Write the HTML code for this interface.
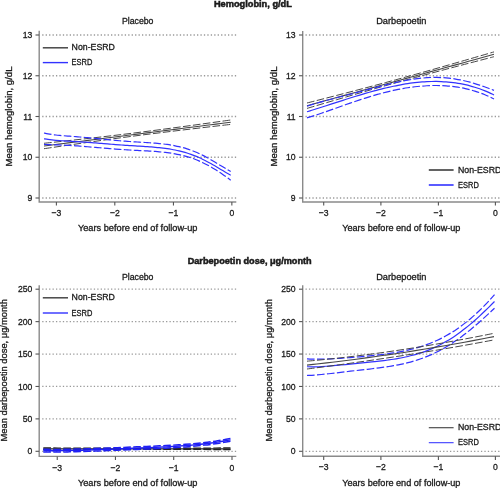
<!DOCTYPE html>
<html><head><meta charset="utf-8"><title>Figure</title>
<style>html,body{margin:0;padding:0;background:#fff;overflow:hidden}svg{display:block}text{font-family:"Liberation Sans",sans-serif;stroke:#1a1a1a;stroke-width:0.3px}</style>
</head><body>
<svg width="500" height="488" viewBox="0 0 500 488" font-family='"Liberation Sans", sans-serif' fill="#1a1a1a" style="will-change:transform">
<rect width="500" height="488" fill="#fff"/>
<text x="252.90" y="6.60" font-size="8.90" text-anchor="middle" font-weight="bold" textLength="78.00" lengthAdjust="spacingAndGlyphs" style="stroke-width:0.5px">Hemoglobin, g/dL</text>
<text x="249.65" y="263.70" font-size="8.90" text-anchor="middle" font-weight="bold" textLength="124.00" lengthAdjust="spacingAndGlyphs" style="stroke-width:0.5px">Darbepoetin dose, μg/month</text>
<g>
<line x1="42.20" y1="35.00" x2="236.30" y2="35.00" stroke="#9a9a9a" stroke-width="1.3" stroke-dasharray="1.3 2.14"/>
<line x1="42.20" y1="75.75" x2="236.30" y2="75.75" stroke="#9a9a9a" stroke-width="1.3" stroke-dasharray="1.3 2.14"/>
<line x1="42.20" y1="116.50" x2="236.30" y2="116.50" stroke="#9a9a9a" stroke-width="1.3" stroke-dasharray="1.3 2.14"/>
<line x1="42.20" y1="157.25" x2="236.30" y2="157.25" stroke="#9a9a9a" stroke-width="1.3" stroke-dasharray="1.3 2.14"/>
<line x1="42.20" y1="198.00" x2="236.30" y2="198.00" stroke="#9a9a9a" stroke-width="1.3" stroke-dasharray="1.3 2.14"/>
<path d="M39.20,30.70 V202.00 H236.30" fill="none" stroke="#8a8a8a" stroke-width="1.4"/>
<line x1="35.50" y1="35.00" x2="39.20" y2="35.00" stroke="#555" stroke-width="1.1"/>
<text x="32.30" y="38.15" font-size="9.60" text-anchor="end" font-weight="normal" textLength="9.61" lengthAdjust="spacingAndGlyphs">13</text>
<line x1="35.50" y1="75.75" x2="39.20" y2="75.75" stroke="#555" stroke-width="1.1"/>
<text x="32.30" y="78.90" font-size="9.60" text-anchor="end" font-weight="normal" textLength="9.61" lengthAdjust="spacingAndGlyphs">12</text>
<line x1="35.50" y1="116.50" x2="39.20" y2="116.50" stroke="#555" stroke-width="1.1"/>
<text x="32.30" y="119.65" font-size="9.60" text-anchor="end" font-weight="normal" textLength="8.97" lengthAdjust="spacingAndGlyphs">11</text>
<line x1="35.50" y1="157.25" x2="39.20" y2="157.25" stroke="#555" stroke-width="1.1"/>
<text x="32.30" y="160.40" font-size="9.60" text-anchor="end" font-weight="normal" textLength="9.61" lengthAdjust="spacingAndGlyphs">10</text>
<line x1="35.50" y1="198.00" x2="39.20" y2="198.00" stroke="#555" stroke-width="1.1"/>
<text x="32.30" y="201.15" font-size="9.60" text-anchor="end" font-weight="normal" textLength="4.80" lengthAdjust="spacingAndGlyphs">9</text>
<line x1="56.40" y1="202.00" x2="56.40" y2="205.60" stroke="#555" stroke-width="1.1"/>
<text x="56.40" y="216.10" font-size="9.60" text-anchor="middle" font-weight="normal" textLength="9.85" lengthAdjust="spacingAndGlyphs">−3</text>
<line x1="114.80" y1="202.00" x2="114.80" y2="205.60" stroke="#555" stroke-width="1.1"/>
<text x="114.80" y="216.10" font-size="9.60" text-anchor="middle" font-weight="normal" textLength="9.85" lengthAdjust="spacingAndGlyphs">−2</text>
<line x1="173.45" y1="202.00" x2="173.45" y2="205.60" stroke="#555" stroke-width="1.1"/>
<text x="173.45" y="216.10" font-size="9.60" text-anchor="middle" font-weight="normal" textLength="9.85" lengthAdjust="spacingAndGlyphs">−1</text>
<line x1="231.85" y1="202.00" x2="231.85" y2="205.60" stroke="#555" stroke-width="1.1"/>
<text x="231.85" y="216.10" font-size="9.60" text-anchor="middle" font-weight="normal" textLength="4.80" lengthAdjust="spacingAndGlyphs">0</text>
<text x="137.70" y="23.60" font-size="9.00" text-anchor="middle" font-weight="normal" textLength="31.50" lengthAdjust="spacingAndGlyphs">Placebo</text>
<text x="137.70" y="231.40" font-size="9.00" text-anchor="middle" font-weight="normal" textLength="119.50" lengthAdjust="spacingAndGlyphs">Years before end of follow-up</text>
<text transform="translate(12.30,116.50) rotate(-90)" x="0" y="0" font-size="9.00" text-anchor="middle" textLength="100.00" lengthAdjust="spacingAndGlyphs">Mean hemoglobin, g/dL</text>
<path d="M44.00,143.30 C45.64,143.12 50.55,142.59 53.83,142.24 C57.10,141.88 60.38,141.52 63.65,141.16 C66.93,140.80 70.20,140.44 73.48,140.08 C76.75,139.72 80.03,139.35 83.31,138.99 C86.58,138.62 89.86,138.25 93.13,137.88 C96.41,137.51 99.68,137.13 102.96,136.75 C106.23,136.37 109.51,135.99 112.78,135.60 C116.06,135.21 119.34,134.82 122.61,134.42 C125.89,134.03 129.16,133.62 132.44,133.22 C135.71,132.81 138.99,132.39 142.26,131.97 C145.54,131.55 148.81,131.13 152.09,130.71 C155.36,130.28 158.64,129.85 161.92,129.42 C165.19,128.99 168.47,128.55 171.74,128.11 C175.02,127.68 178.29,127.23 181.57,126.79 C184.84,126.35 188.12,125.90 191.39,125.46 C194.67,125.01 197.95,124.56 201.22,124.11 C204.50,123.65 207.77,123.20 211.05,122.75 C214.32,122.29 217.60,121.83 220.87,121.38 C224.15,120.92 229.06,120.23 230.70,120.00" fill="none" stroke="#474747" stroke-width="1.00" stroke-dasharray="7.6 2.4"/>
<path d="M44.00,148.70 C45.64,148.46 50.55,147.74 53.83,147.26 C57.10,146.78 60.38,146.30 63.65,145.83 C66.93,145.35 70.20,144.88 73.48,144.40 C76.75,143.93 80.03,143.46 83.31,142.99 C86.58,142.52 89.86,142.06 93.13,141.59 C96.41,141.13 99.68,140.67 102.96,140.22 C106.23,139.76 109.51,139.31 112.78,138.86 C116.06,138.41 119.34,137.97 122.61,137.53 C125.89,137.10 129.16,136.66 132.44,136.24 C135.71,135.81 138.99,135.39 142.26,134.97 C145.54,134.56 148.81,134.15 152.09,133.74 C155.36,133.33 158.64,132.92 161.92,132.52 C165.19,132.11 168.47,131.72 171.74,131.32 C175.02,130.92 178.29,130.53 181.57,130.13 C184.84,129.74 188.12,129.35 191.39,128.97 C194.67,128.58 197.95,128.19 201.22,127.81 C204.50,127.43 207.77,127.04 211.05,126.66 C214.32,126.28 217.60,125.91 220.87,125.53 C224.15,125.15 229.06,124.59 230.70,124.40" fill="none" stroke="#474747" stroke-width="1.00" stroke-dasharray="7.6 2.4"/>
<path d="M44.00,146.00 C45.64,145.79 50.55,145.16 53.83,144.75 C57.10,144.33 60.38,143.91 63.65,143.49 C66.93,143.08 70.20,142.66 73.48,142.24 C76.75,141.82 80.03,141.41 83.31,140.99 C86.58,140.57 89.86,140.15 93.13,139.74 C96.41,139.32 99.68,138.90 102.96,138.48 C106.23,138.07 109.51,137.65 112.78,137.23 C116.06,136.81 119.34,136.40 122.61,135.98 C125.89,135.56 129.16,135.14 132.44,134.73 C135.71,134.31 138.99,133.89 142.26,133.47 C145.54,133.06 148.81,132.64 152.09,132.22 C155.36,131.80 158.64,131.39 161.92,130.97 C165.19,130.55 168.47,130.13 171.74,129.72 C175.02,129.30 178.29,128.88 181.57,128.46 C184.84,128.05 188.12,127.63 191.39,127.21 C194.67,126.79 197.95,126.38 201.22,125.96 C204.50,125.54 207.77,125.12 211.05,124.71 C214.32,124.29 217.60,123.87 220.87,123.45 C224.15,123.04 229.06,122.41 230.70,122.20" fill="none" stroke="#474747" stroke-width="1.10"/>
<path d="M44.00,132.97 C44.66,133.12 46.65,133.59 47.97,133.85 C49.30,134.10 50.62,134.31 51.94,134.51 C53.27,134.70 54.59,134.86 55.92,135.01 C57.24,135.16 58.57,135.29 59.89,135.42 C61.21,135.54 62.54,135.65 63.86,135.76 C65.19,135.87 66.51,135.97 67.83,136.07 C69.16,136.17 70.48,136.27 71.81,136.37 C73.13,136.47 74.45,136.57 75.78,136.67 C77.10,136.78 78.43,136.88 79.75,136.99 C81.08,137.10 82.40,137.22 83.72,137.33 C85.05,137.45 86.37,137.57 87.70,137.69 C89.02,137.81 90.34,137.94 91.67,138.07 C92.99,138.20 94.32,138.33 95.64,138.46 C96.96,138.59 98.29,138.73 99.61,138.86 C100.94,138.99 102.26,139.13 103.59,139.26 C104.91,139.39 106.23,139.52 107.56,139.65 C108.88,139.78 110.21,139.91 111.53,140.04 C112.85,140.16 114.18,140.28 115.50,140.40 C116.83,140.52 118.15,140.64 119.47,140.75 C120.80,140.86 122.12,140.97 123.45,141.07 C124.77,141.17 126.10,141.27 127.42,141.37 C128.74,141.46 130.07,141.55 131.39,141.64 C132.72,141.73 134.04,141.81 135.36,141.90 C136.69,141.98 138.01,142.06 139.34,142.14 C140.66,142.22 141.98,142.30 143.31,142.38 C144.63,142.46 145.96,142.54 147.28,142.63 C148.60,142.71 149.93,142.80 151.25,142.89 C152.58,142.99 153.90,143.08 155.23,143.19 C156.55,143.30 157.87,143.41 159.20,143.54 C160.52,143.67 161.85,143.80 163.17,143.96 C164.49,144.11 165.82,144.27 167.14,144.46 C168.47,144.64 169.79,144.84 171.11,145.06 C172.44,145.28 173.76,145.52 175.09,145.79 C176.41,146.05 177.74,146.34 179.06,146.65 C180.38,146.97 181.71,147.30 183.03,147.67 C184.36,148.04 185.68,148.43 187.00,148.86 C188.33,149.28 189.65,149.73 190.98,150.22 C192.30,150.70 193.62,151.22 194.95,151.76 C196.27,152.31 197.60,152.89 198.92,153.49 C200.25,154.10 201.57,154.74 202.89,155.40 C204.22,156.07 205.54,156.76 206.87,157.48 C208.19,158.19 209.51,158.94 210.84,159.70 C212.16,160.45 213.49,161.24 214.81,162.03 C216.13,162.82 217.46,163.63 218.78,164.43 C220.11,165.24 221.43,166.06 222.76,166.86 C224.08,167.66 225.40,168.46 226.73,169.23 C228.05,170.00 230.04,171.10 230.70,171.47" fill="none" stroke="#3232ff" stroke-width="1.20" stroke-dasharray="7.6 2.4"/>
<path d="M44.00,144.39 C44.66,144.42 46.65,144.52 47.97,144.57 C49.30,144.63 50.62,144.67 51.94,144.72 C53.27,144.76 54.59,144.81 55.92,144.85 C57.24,144.90 58.57,144.95 59.89,145.00 C61.21,145.05 62.54,145.10 63.86,145.16 C65.19,145.22 66.51,145.28 67.83,145.35 C69.16,145.42 70.48,145.49 71.81,145.57 C73.13,145.65 74.45,145.73 75.78,145.82 C77.10,145.91 78.43,146.00 79.75,146.10 C81.08,146.19 82.40,146.30 83.72,146.40 C85.05,146.51 86.37,146.62 87.70,146.73 C89.02,146.84 90.34,146.95 91.67,147.07 C92.99,147.18 94.32,147.30 95.64,147.42 C96.96,147.53 98.29,147.65 99.61,147.77 C100.94,147.89 102.26,148.00 103.59,148.12 C104.91,148.23 106.23,148.35 107.56,148.46 C108.88,148.57 110.21,148.67 111.53,148.78 C112.85,148.89 114.18,148.99 115.50,149.09 C116.83,149.19 118.15,149.28 119.47,149.37 C120.80,149.47 122.12,149.55 123.45,149.64 C124.77,149.73 126.10,149.81 127.42,149.89 C128.74,149.96 130.07,150.04 131.39,150.11 C132.72,150.19 134.04,150.26 135.36,150.33 C136.69,150.40 138.01,150.47 139.34,150.54 C140.66,150.61 141.98,150.67 143.31,150.74 C144.63,150.82 145.96,150.89 147.28,150.96 C148.60,151.04 149.93,151.11 151.25,151.20 C152.58,151.28 153.90,151.37 155.23,151.47 C156.55,151.57 157.87,151.67 159.20,151.79 C160.52,151.90 161.85,152.03 163.17,152.17 C164.49,152.31 165.82,152.46 167.14,152.62 C168.47,152.79 169.79,152.97 171.11,153.17 C172.44,153.37 173.76,153.59 175.09,153.83 C176.41,154.07 177.74,154.33 179.06,154.61 C180.38,154.90 181.71,155.20 183.03,155.54 C184.36,155.87 185.68,156.23 187.00,156.62 C188.33,157.00 189.65,157.42 190.98,157.86 C192.30,158.31 193.62,158.78 194.95,159.29 C196.27,159.79 197.60,160.33 198.92,160.90 C200.25,161.47 201.57,162.07 202.89,162.70 C204.22,163.33 205.54,164.00 206.87,164.70 C208.19,165.39 209.51,166.12 210.84,166.88 C212.16,167.64 213.49,168.43 214.81,169.25 C216.13,170.07 217.46,170.92 218.78,171.79 C220.11,172.66 221.43,173.55 222.76,174.47 C224.08,175.38 225.40,176.32 226.73,177.27 C228.05,178.21 230.04,179.67 230.70,180.15" fill="none" stroke="#3232ff" stroke-width="1.20" stroke-dasharray="7.6 2.4"/>
<path d="M44.00,138.80 C44.66,138.91 46.65,139.27 47.97,139.46 C49.30,139.65 50.62,139.81 51.94,139.95 C53.27,140.10 54.59,140.22 55.92,140.33 C57.24,140.44 58.57,140.53 59.89,140.62 C61.21,140.71 62.54,140.79 63.86,140.87 C65.19,140.95 66.51,141.02 67.83,141.10 C69.16,141.17 70.48,141.25 71.81,141.32 C73.13,141.40 74.45,141.47 75.78,141.55 C77.10,141.63 78.43,141.71 79.75,141.80 C81.08,141.89 82.40,141.97 83.72,142.07 C85.05,142.16 86.37,142.25 87.70,142.35 C89.02,142.45 90.34,142.55 91.67,142.65 C92.99,142.75 94.32,142.86 95.64,142.97 C96.96,143.07 98.29,143.18 99.61,143.29 C100.94,143.40 102.26,143.51 103.59,143.62 C104.91,143.73 106.23,143.84 107.56,143.95 C108.88,144.05 110.21,144.16 111.53,144.27 C112.85,144.37 114.18,144.48 115.50,144.58 C116.83,144.68 118.15,144.78 119.47,144.87 C120.80,144.97 122.12,145.06 123.45,145.15 C124.77,145.25 126.10,145.33 127.42,145.42 C128.74,145.51 130.07,145.59 131.39,145.68 C132.72,145.76 134.04,145.84 135.36,145.92 C136.69,146.00 138.01,146.08 139.34,146.16 C140.66,146.24 141.98,146.32 143.31,146.41 C144.63,146.49 145.96,146.58 147.28,146.67 C148.60,146.76 149.93,146.85 151.25,146.96 C152.58,147.06 153.90,147.16 155.23,147.28 C156.55,147.40 157.87,147.52 159.20,147.66 C160.52,147.79 161.85,147.94 163.17,148.10 C164.49,148.26 165.82,148.43 167.14,148.63 C168.47,148.82 169.79,149.02 171.11,149.25 C172.44,149.48 173.76,149.72 175.09,149.99 C176.41,150.26 177.74,150.55 179.06,150.86 C180.38,151.18 181.71,151.52 183.03,151.88 C184.36,152.24 185.68,152.63 187.00,153.05 C188.33,153.47 189.65,153.91 190.98,154.39 C192.30,154.86 193.62,155.36 194.95,155.89 C196.27,156.43 197.60,156.99 198.92,157.57 C200.25,158.16 201.57,158.78 202.89,159.42 C204.22,160.06 205.54,160.74 206.87,161.43 C208.19,162.12 209.51,162.84 210.84,163.58 C212.16,164.32 213.49,165.08 214.81,165.85 C216.13,166.62 217.46,167.41 218.78,168.20 C220.11,169.00 221.43,169.80 222.76,170.60 C224.08,171.40 225.40,172.20 226.73,172.98 C228.05,173.76 230.04,174.90 230.70,175.28" fill="none" stroke="#3232ff" stroke-width="1.20"/>
<line x1="42.80" y1="47.80" x2="68.00" y2="47.80" stroke="#474747" stroke-width="1.50"/>
<line x1="42.80" y1="62.60" x2="68.00" y2="62.60" stroke="#3232ff" stroke-width="1.40"/>
<text x="71.60" y="50.30" font-size="9.00" text-anchor="start" font-weight="normal" textLength="43.30" lengthAdjust="spacingAndGlyphs">Non-ESRD</text>
<text x="71.60" y="65.10" font-size="9.00" text-anchor="start" font-weight="normal" textLength="20.80" lengthAdjust="spacingAndGlyphs">ESRD</text>
</g>
<g>
<line x1="305.50" y1="35.00" x2="500.00" y2="35.00" stroke="#9a9a9a" stroke-width="1.3" stroke-dasharray="1.3 2.14"/>
<line x1="305.50" y1="75.75" x2="500.00" y2="75.75" stroke="#9a9a9a" stroke-width="1.3" stroke-dasharray="1.3 2.14"/>
<line x1="305.50" y1="116.50" x2="500.00" y2="116.50" stroke="#9a9a9a" stroke-width="1.3" stroke-dasharray="1.3 2.14"/>
<line x1="305.50" y1="157.25" x2="500.00" y2="157.25" stroke="#9a9a9a" stroke-width="1.3" stroke-dasharray="1.3 2.14"/>
<line x1="305.50" y1="198.00" x2="500.00" y2="198.00" stroke="#9a9a9a" stroke-width="1.3" stroke-dasharray="1.3 2.14"/>
<path d="M302.70,31.00 V202.00 H500.00" fill="none" stroke="#8a8a8a" stroke-width="1.4"/>
<line x1="299.00" y1="35.00" x2="302.70" y2="35.00" stroke="#555" stroke-width="1.1"/>
<text x="295.60" y="38.15" font-size="9.60" text-anchor="end" font-weight="normal" textLength="9.61" lengthAdjust="spacingAndGlyphs">13</text>
<line x1="299.00" y1="75.75" x2="302.70" y2="75.75" stroke="#555" stroke-width="1.1"/>
<text x="295.60" y="78.90" font-size="9.60" text-anchor="end" font-weight="normal" textLength="9.61" lengthAdjust="spacingAndGlyphs">12</text>
<line x1="299.00" y1="116.50" x2="302.70" y2="116.50" stroke="#555" stroke-width="1.1"/>
<text x="295.60" y="119.65" font-size="9.60" text-anchor="end" font-weight="normal" textLength="8.97" lengthAdjust="spacingAndGlyphs">11</text>
<line x1="299.00" y1="157.25" x2="302.70" y2="157.25" stroke="#555" stroke-width="1.1"/>
<text x="295.60" y="160.40" font-size="9.60" text-anchor="end" font-weight="normal" textLength="9.61" lengthAdjust="spacingAndGlyphs">10</text>
<line x1="299.00" y1="198.00" x2="302.70" y2="198.00" stroke="#555" stroke-width="1.1"/>
<text x="295.60" y="201.15" font-size="9.60" text-anchor="end" font-weight="normal" textLength="4.80" lengthAdjust="spacingAndGlyphs">9</text>
<line x1="323.70" y1="202.00" x2="323.70" y2="205.60" stroke="#555" stroke-width="1.1"/>
<text x="323.70" y="216.10" font-size="9.60" text-anchor="middle" font-weight="normal" textLength="9.85" lengthAdjust="spacingAndGlyphs">−3</text>
<line x1="380.90" y1="202.00" x2="380.90" y2="205.60" stroke="#555" stroke-width="1.1"/>
<text x="380.90" y="216.10" font-size="9.60" text-anchor="middle" font-weight="normal" textLength="9.85" lengthAdjust="spacingAndGlyphs">−2</text>
<line x1="438.40" y1="202.00" x2="438.40" y2="205.60" stroke="#555" stroke-width="1.1"/>
<text x="438.40" y="216.10" font-size="9.60" text-anchor="middle" font-weight="normal" textLength="9.85" lengthAdjust="spacingAndGlyphs">−1</text>
<line x1="495.40" y1="202.00" x2="495.40" y2="205.60" stroke="#555" stroke-width="1.1"/>
<text x="495.40" y="216.10" font-size="9.60" text-anchor="middle" font-weight="normal" textLength="4.80" lengthAdjust="spacingAndGlyphs">0</text>
<text x="401.30" y="23.50" font-size="9.00" text-anchor="middle" font-weight="normal" textLength="50.20" lengthAdjust="spacingAndGlyphs">Darbepoetin</text>
<text x="401.30" y="231.40" font-size="9.00" text-anchor="middle" font-weight="normal" textLength="118.30" lengthAdjust="spacingAndGlyphs">Years before end of follow-up</text>
<text transform="translate(277.00,116.50) rotate(-90)" x="0" y="0" font-size="9.00" text-anchor="middle" textLength="100.00" lengthAdjust="spacingAndGlyphs">Mean hemoglobin, g/dL</text>
<path d="M307.00,103.00 C308.64,102.58 313.56,101.33 316.84,100.49 C320.12,99.65 323.40,98.81 326.68,97.97 C329.96,97.13 333.25,96.29 336.53,95.44 C339.81,94.59 343.09,93.75 346.37,92.90 C349.65,92.05 352.93,91.20 356.21,90.34 C359.49,89.48 362.77,88.62 366.05,87.76 C369.33,86.90 372.61,86.03 375.89,85.15 C379.18,84.28 382.46,83.40 385.74,82.52 C389.02,81.63 392.30,80.74 395.58,79.85 C398.86,78.95 402.14,78.05 405.42,77.14 C408.70,76.24 411.98,75.33 415.26,74.41 C418.54,73.50 421.82,72.58 425.11,71.66 C428.39,70.73 431.67,69.81 434.95,68.88 C438.23,67.95 441.51,67.02 444.79,66.08 C448.07,65.15 451.35,64.21 454.63,63.27 C457.91,62.33 461.19,61.38 464.47,60.44 C467.75,59.50 471.04,58.55 474.32,57.60 C477.60,56.65 480.88,55.71 484.16,54.76 C487.44,53.80 492.36,52.38 494.00,51.90" fill="none" stroke="#474747" stroke-width="1.00" stroke-dasharray="7.6 2.4"/>
<path d="M307.00,108.40 C308.64,107.92 313.56,106.47 316.84,105.50 C320.12,104.54 323.40,103.57 326.68,102.61 C329.96,101.65 333.25,100.69 336.53,99.73 C339.81,98.77 343.09,97.81 346.37,96.86 C349.65,95.91 352.93,94.96 356.21,94.01 C359.49,93.06 362.77,92.12 366.05,91.18 C369.33,90.24 372.61,89.30 375.89,88.37 C379.18,87.44 382.46,86.52 385.74,85.60 C389.02,84.68 392.30,83.76 395.58,82.86 C398.86,81.95 402.14,81.05 405.42,80.15 C408.70,79.25 411.98,78.36 415.26,77.47 C418.54,76.58 421.82,75.70 425.11,74.82 C428.39,73.94 431.67,73.06 434.95,72.19 C438.23,71.31 441.51,70.44 444.79,69.57 C448.07,68.70 451.35,67.84 454.63,66.97 C457.91,66.11 461.19,65.25 464.47,64.39 C467.75,63.53 471.04,62.67 474.32,61.82 C477.60,60.96 480.88,60.11 484.16,59.26 C487.44,58.40 492.36,57.13 494.00,56.70" fill="none" stroke="#474747" stroke-width="1.00" stroke-dasharray="7.6 2.4"/>
<path d="M307.00,105.70 C308.64,105.25 313.56,103.90 316.84,102.99 C320.12,102.09 323.40,101.19 326.68,100.29 C329.96,99.39 333.25,98.49 336.53,97.58 C339.81,96.68 343.09,95.78 346.37,94.88 C349.65,93.98 352.93,93.08 356.21,92.17 C359.49,91.27 362.77,90.37 366.05,89.47 C369.33,88.57 372.61,87.66 375.89,86.76 C379.18,85.86 382.46,84.96 385.74,84.06 C389.02,83.16 392.30,82.25 395.58,81.35 C398.86,80.45 402.14,79.55 405.42,78.65 C408.70,77.75 411.98,76.84 415.26,75.94 C418.54,75.04 421.82,74.14 425.11,73.24 C428.39,72.34 431.67,71.43 434.95,70.53 C438.23,69.63 441.51,68.73 444.79,67.83 C448.07,66.92 451.35,66.02 454.63,65.12 C457.91,64.22 461.19,63.32 464.47,62.42 C467.75,61.51 471.04,60.61 474.32,59.71 C477.60,58.81 480.88,57.91 484.16,57.01 C487.44,56.10 492.36,54.75 494.00,54.30" fill="none" stroke="#474747" stroke-width="1.10"/>
<path d="M307.00,106.30 C307.80,106.03 310.20,105.21 311.79,104.69 C313.39,104.18 314.99,103.69 316.59,103.21 C318.19,102.73 319.79,102.27 321.38,101.82 C322.98,101.37 324.58,100.94 326.18,100.51 C327.78,100.07 329.38,99.65 330.97,99.23 C332.57,98.81 334.17,98.40 335.77,97.98 C337.37,97.57 338.97,97.16 340.56,96.75 C342.16,96.33 343.76,95.92 345.36,95.51 C346.96,95.10 348.56,94.68 350.15,94.26 C351.75,93.85 353.35,93.43 354.95,93.01 C356.55,92.59 358.15,92.17 359.74,91.75 C361.34,91.32 362.94,90.90 364.54,90.47 C366.14,90.05 367.74,89.62 369.33,89.20 C370.93,88.77 372.53,88.35 374.13,87.93 C375.73,87.51 377.32,87.09 378.92,86.67 C380.52,86.26 382.12,85.84 383.72,85.44 C385.32,85.03 386.91,84.63 388.51,84.24 C390.11,83.85 391.71,83.47 393.31,83.10 C394.91,82.73 396.50,82.37 398.10,82.02 C399.70,81.67 401.30,81.34 402.90,81.02 C404.50,80.70 406.09,80.39 407.69,80.11 C409.29,79.83 410.89,79.56 412.49,79.31 C414.09,79.07 415.68,78.84 417.28,78.64 C418.88,78.44 420.48,78.25 422.08,78.10 C423.68,77.95 425.27,77.81 426.87,77.71 C428.47,77.61 430.07,77.53 431.67,77.48 C433.26,77.44 434.86,77.42 436.46,77.43 C438.06,77.44 439.66,77.48 441.26,77.55 C442.85,77.62 444.45,77.73 446.05,77.86 C447.65,78.00 449.25,78.16 450.85,78.36 C452.44,78.56 454.04,78.78 455.64,79.04 C457.24,79.30 458.84,79.60 460.44,79.92 C462.03,80.24 463.63,80.59 465.23,80.97 C466.83,81.35 468.43,81.77 470.03,82.20 C471.62,82.64 473.22,83.10 474.82,83.59 C476.42,84.07 478.02,84.59 479.62,85.12 C481.21,85.65 482.81,86.20 484.41,86.77 C486.01,87.33 487.61,87.92 489.21,88.51 C490.80,89.10 493.20,90.02 494.00,90.32" fill="none" stroke="#3232ff" stroke-width="1.20" stroke-dasharray="7.6 2.4"/>
<path d="M307.00,117.84 C307.80,117.60 310.20,116.89 311.79,116.39 C313.39,115.89 314.99,115.37 316.59,114.85 C318.19,114.33 319.79,113.79 321.38,113.25 C322.98,112.70 324.58,112.15 326.18,111.59 C327.78,111.03 329.38,110.47 330.97,109.90 C332.57,109.34 334.17,108.77 335.77,108.20 C337.37,107.63 338.97,107.06 340.56,106.49 C342.16,105.92 343.76,105.35 345.36,104.79 C346.96,104.23 348.56,103.67 350.15,103.11 C351.75,102.56 353.35,102.01 354.95,101.47 C356.55,100.93 358.15,100.39 359.74,99.87 C361.34,99.34 362.94,98.82 364.54,98.31 C366.14,97.80 367.74,97.30 369.33,96.82 C370.93,96.33 372.53,95.85 374.13,95.39 C375.73,94.92 377.32,94.47 378.92,94.03 C380.52,93.59 382.12,93.17 383.72,92.75 C385.32,92.34 386.91,91.94 388.51,91.56 C390.11,91.18 391.71,90.81 393.31,90.46 C394.91,90.11 396.50,89.77 398.10,89.46 C399.70,89.14 401.30,88.84 402.90,88.55 C404.50,88.27 406.09,88.00 407.69,87.75 C409.29,87.51 410.89,87.28 412.49,87.07 C414.09,86.86 415.68,86.67 417.28,86.50 C418.88,86.33 420.48,86.18 422.08,86.05 C423.68,85.92 425.27,85.81 426.87,85.73 C428.47,85.64 430.07,85.58 431.67,85.54 C433.26,85.50 434.86,85.48 436.46,85.49 C438.06,85.50 439.66,85.53 441.26,85.59 C442.85,85.65 444.45,85.73 446.05,85.84 C447.65,85.95 449.25,86.09 450.85,86.25 C452.44,86.42 454.04,86.61 455.64,86.83 C457.24,87.06 458.84,87.31 460.44,87.59 C462.03,87.88 463.63,88.20 465.23,88.55 C466.83,88.90 468.43,89.28 470.03,89.70 C471.62,90.12 473.22,90.57 474.82,91.07 C476.42,91.56 478.02,92.09 479.62,92.66 C481.21,93.24 482.81,93.85 484.41,94.50 C486.01,95.16 487.61,95.85 489.21,96.60 C490.80,97.34 493.20,98.58 494.00,98.97" fill="none" stroke="#3232ff" stroke-width="1.20" stroke-dasharray="7.6 2.4"/>
<path d="M307.00,111.73 C307.80,111.49 310.20,110.77 311.79,110.28 C313.39,109.78 314.99,109.29 316.59,108.79 C318.19,108.28 319.79,107.78 321.38,107.27 C322.98,106.76 324.58,106.25 326.18,105.74 C327.78,105.22 329.38,104.71 330.97,104.19 C332.57,103.67 334.17,103.16 335.77,102.64 C337.37,102.12 338.97,101.61 340.56,101.09 C342.16,100.58 343.76,100.06 345.36,99.55 C346.96,99.04 348.56,98.54 350.15,98.03 C351.75,97.53 353.35,97.03 354.95,96.54 C356.55,96.04 358.15,95.55 359.74,95.07 C361.34,94.59 362.94,94.11 364.54,93.64 C366.14,93.18 367.74,92.71 369.33,92.26 C370.93,91.81 372.53,91.36 374.13,90.93 C375.73,90.49 377.32,90.07 378.92,89.66 C380.52,89.24 382.12,88.84 383.72,88.45 C385.32,88.06 386.91,87.68 388.51,87.31 C390.11,86.95 391.71,86.59 393.31,86.26 C394.91,85.92 396.50,85.59 398.10,85.29 C399.70,84.98 401.30,84.68 402.90,84.41 C404.50,84.13 406.09,83.87 407.69,83.63 C409.29,83.39 410.89,83.16 412.49,82.96 C414.09,82.75 415.68,82.57 417.28,82.40 C418.88,82.24 420.48,82.09 422.08,81.97 C423.68,81.84 425.27,81.74 426.87,81.66 C428.47,81.58 430.07,81.52 431.67,81.48 C433.26,81.45 434.86,81.44 436.46,81.45 C438.06,81.47 439.66,81.50 441.26,81.57 C442.85,81.64 444.45,81.73 446.05,81.85 C447.65,81.96 449.25,82.11 450.85,82.28 C452.44,82.46 454.04,82.66 455.64,82.90 C457.24,83.13 458.84,83.39 460.44,83.69 C462.03,83.98 463.63,84.30 465.23,84.66 C466.83,85.02 468.43,85.41 470.03,85.83 C471.62,86.26 473.22,86.72 474.82,87.21 C476.42,87.70 478.02,88.23 479.62,88.79 C481.21,89.36 482.81,89.96 484.41,90.60 C486.01,91.24 487.61,91.91 489.21,92.63 C490.80,93.34 493.20,94.52 494.00,94.89" fill="none" stroke="#3232ff" stroke-width="1.20"/>
<line x1="428.80" y1="170.00" x2="453.60" y2="170.00" stroke="#474747" stroke-width="1.70"/>
<line x1="428.80" y1="185.00" x2="453.60" y2="185.00" stroke="#3232ff" stroke-width="1.60"/>
<text x="458.00" y="172.50" font-size="9.00" text-anchor="start" font-weight="normal" textLength="43.30" lengthAdjust="spacingAndGlyphs">Non-ESRD</text>
<text x="458.00" y="187.50" font-size="9.00" text-anchor="start" font-weight="normal" textLength="20.80" lengthAdjust="spacingAndGlyphs">ESRD</text>
</g>
<g>
<line x1="42.20" y1="289.20" x2="236.30" y2="289.20" stroke="#9a9a9a" stroke-width="1.3" stroke-dasharray="1.3 2.14"/>
<line x1="42.20" y1="321.62" x2="236.30" y2="321.62" stroke="#9a9a9a" stroke-width="1.3" stroke-dasharray="1.3 2.14"/>
<line x1="42.20" y1="354.04" x2="236.30" y2="354.04" stroke="#9a9a9a" stroke-width="1.3" stroke-dasharray="1.3 2.14"/>
<line x1="42.20" y1="386.46" x2="236.30" y2="386.46" stroke="#9a9a9a" stroke-width="1.3" stroke-dasharray="1.3 2.14"/>
<line x1="42.20" y1="418.88" x2="236.30" y2="418.88" stroke="#9a9a9a" stroke-width="1.3" stroke-dasharray="1.3 2.14"/>
<line x1="42.20" y1="451.30" x2="236.30" y2="451.30" stroke="#9a9a9a" stroke-width="1.3" stroke-dasharray="1.3 2.14"/>
<path d="M39.20,285.20 V456.40 H236.30" fill="none" stroke="#8a8a8a" stroke-width="1.4"/>
<line x1="35.50" y1="289.20" x2="39.20" y2="289.20" stroke="#555" stroke-width="1.1"/>
<text x="32.30" y="292.35" font-size="9.60" text-anchor="end" font-weight="normal" textLength="14.41" lengthAdjust="spacingAndGlyphs">250</text>
<line x1="35.50" y1="321.62" x2="39.20" y2="321.62" stroke="#555" stroke-width="1.1"/>
<text x="32.30" y="324.77" font-size="9.60" text-anchor="end" font-weight="normal" textLength="14.41" lengthAdjust="spacingAndGlyphs">200</text>
<line x1="35.50" y1="354.04" x2="39.20" y2="354.04" stroke="#555" stroke-width="1.1"/>
<text x="32.30" y="357.19" font-size="9.60" text-anchor="end" font-weight="normal" textLength="14.41" lengthAdjust="spacingAndGlyphs">150</text>
<line x1="35.50" y1="386.46" x2="39.20" y2="386.46" stroke="#555" stroke-width="1.1"/>
<text x="32.30" y="389.61" font-size="9.60" text-anchor="end" font-weight="normal" textLength="14.41" lengthAdjust="spacingAndGlyphs">100</text>
<line x1="35.50" y1="418.88" x2="39.20" y2="418.88" stroke="#555" stroke-width="1.1"/>
<text x="32.30" y="422.03" font-size="9.60" text-anchor="end" font-weight="normal" textLength="9.61" lengthAdjust="spacingAndGlyphs">50</text>
<line x1="35.50" y1="451.30" x2="39.20" y2="451.30" stroke="#555" stroke-width="1.1"/>
<text x="32.30" y="454.45" font-size="9.60" text-anchor="end" font-weight="normal" textLength="4.80" lengthAdjust="spacingAndGlyphs">0</text>
<line x1="57.25" y1="456.40" x2="57.25" y2="460.00" stroke="#555" stroke-width="1.1"/>
<text x="57.25" y="470.50" font-size="9.60" text-anchor="middle" font-weight="normal" textLength="9.85" lengthAdjust="spacingAndGlyphs">−3</text>
<line x1="115.45" y1="456.40" x2="115.45" y2="460.00" stroke="#555" stroke-width="1.1"/>
<text x="115.45" y="470.50" font-size="9.60" text-anchor="middle" font-weight="normal" textLength="9.85" lengthAdjust="spacingAndGlyphs">−2</text>
<line x1="173.70" y1="456.40" x2="173.70" y2="460.00" stroke="#555" stroke-width="1.1"/>
<text x="173.70" y="470.50" font-size="9.60" text-anchor="middle" font-weight="normal" textLength="9.85" lengthAdjust="spacingAndGlyphs">−1</text>
<line x1="232.00" y1="456.40" x2="232.00" y2="460.00" stroke="#555" stroke-width="1.1"/>
<text x="232.00" y="470.50" font-size="9.60" text-anchor="middle" font-weight="normal" textLength="4.80" lengthAdjust="spacingAndGlyphs">0</text>
<text x="137.70" y="279.80" font-size="9.00" text-anchor="middle" font-weight="normal" textLength="31.50" lengthAdjust="spacingAndGlyphs">Placebo</text>
<text x="137.70" y="485.80" font-size="9.00" text-anchor="middle" font-weight="normal" textLength="119.50" lengthAdjust="spacingAndGlyphs">Years before end of follow-up</text>
<text transform="translate(6.80,370.30) rotate(-90)" x="0" y="0" font-size="9.00" text-anchor="middle" textLength="142.30" lengthAdjust="spacingAndGlyphs">Mean darbepoetin dose, μg/month</text>
<path d="M43.30,447.90 C44.94,447.91 49.87,447.94 53.15,447.96 C56.44,447.98 59.72,448.00 63.01,448.02 C66.29,448.04 69.57,448.06 72.86,448.08 C76.14,448.10 79.43,448.11 82.71,448.13 C85.99,448.15 89.28,448.16 92.56,448.18 C95.85,448.19 99.13,448.21 102.42,448.22 C105.70,448.23 108.98,448.25 112.27,448.26 C115.55,448.27 118.84,448.27 122.12,448.28 C125.41,448.29 128.69,448.29 131.97,448.30 C135.26,448.30 138.54,448.30 141.83,448.30 C145.11,448.30 148.39,448.30 151.68,448.29 C154.96,448.29 158.25,448.28 161.53,448.27 C164.82,448.26 168.10,448.25 171.38,448.24 C174.67,448.22 177.95,448.21 181.24,448.19 C184.52,448.18 187.81,448.16 191.09,448.15 C194.37,448.13 197.66,448.11 200.94,448.09 C204.23,448.07 207.51,448.05 210.79,448.03 C214.08,448.01 217.36,447.99 220.65,447.97 C223.93,447.94 228.86,447.91 230.50,447.90" fill="none" stroke="#222" stroke-width="1.20" stroke-dasharray="7.6 2.4"/>
<path d="M43.30,449.70 C44.94,449.69 49.87,449.66 53.15,449.64 C56.44,449.62 59.72,449.60 63.01,449.58 C66.29,449.56 69.57,449.54 72.86,449.52 C76.14,449.50 79.43,449.49 82.71,449.47 C85.99,449.45 89.28,449.44 92.56,449.42 C95.85,449.41 99.13,449.39 102.42,449.38 C105.70,449.37 108.98,449.35 112.27,449.34 C115.55,449.33 118.84,449.33 122.12,449.32 C125.41,449.31 128.69,449.31 131.97,449.30 C135.26,449.30 138.54,449.30 141.83,449.30 C145.11,449.30 148.39,449.30 151.68,449.31 C154.96,449.31 158.25,449.32 161.53,449.33 C164.82,449.34 168.10,449.35 171.38,449.36 C174.67,449.38 177.95,449.39 181.24,449.41 C184.52,449.42 187.81,449.44 191.09,449.45 C194.37,449.47 197.66,449.49 200.94,449.51 C204.23,449.53 207.51,449.55 210.79,449.57 C214.08,449.59 217.36,449.61 220.65,449.63 C223.93,449.66 228.86,449.69 230.50,449.70" fill="none" stroke="#222" stroke-width="1.20" stroke-dasharray="7.6 2.4"/>
<path d="M43.30,448.80 C44.94,448.80 49.87,448.80 53.15,448.80 C56.44,448.80 59.72,448.80 63.01,448.80 C66.29,448.80 69.57,448.80 72.86,448.80 C76.14,448.80 79.43,448.80 82.71,448.80 C85.99,448.80 89.28,448.80 92.56,448.80 C95.85,448.80 99.13,448.80 102.42,448.80 C105.70,448.80 108.98,448.80 112.27,448.80 C115.55,448.80 118.84,448.80 122.12,448.80 C125.41,448.80 128.69,448.80 131.97,448.80 C135.26,448.80 138.54,448.80 141.83,448.80 C145.11,448.80 148.39,448.80 151.68,448.80 C154.96,448.80 158.25,448.80 161.53,448.80 C164.82,448.80 168.10,448.80 171.38,448.80 C174.67,448.80 177.95,448.80 181.24,448.80 C184.52,448.80 187.81,448.80 191.09,448.80 C194.37,448.80 197.66,448.80 200.94,448.80 C204.23,448.80 207.51,448.80 210.79,448.80 C214.08,448.80 217.36,448.80 220.65,448.80 C223.93,448.80 228.86,448.80 230.50,448.80" fill="none" stroke="#222" stroke-width="1.20"/>
<path d="M43.30,449.30 C44.38,449.31 47.60,449.38 49.76,449.40 C51.91,449.42 54.06,449.42 56.21,449.42 C58.36,449.41 60.51,449.40 62.67,449.37 C64.82,449.35 66.97,449.31 69.12,449.27 C71.27,449.23 73.42,449.18 75.58,449.12 C77.73,449.07 79.88,449.01 82.03,448.94 C84.18,448.88 86.33,448.81 88.49,448.73 C90.64,448.66 92.79,448.59 94.94,448.51 C97.09,448.43 99.24,448.35 101.40,448.27 C103.55,448.19 105.70,448.10 107.85,448.02 C110.00,447.94 112.16,447.85 114.31,447.77 C116.46,447.68 118.61,447.60 120.76,447.51 C122.91,447.43 125.07,447.34 127.22,447.25 C129.37,447.17 131.52,447.08 133.67,446.99 C135.82,446.90 137.98,446.81 140.13,446.72 C142.28,446.63 144.43,446.54 146.58,446.45 C148.73,446.36 150.89,446.26 153.04,446.16 C155.19,446.07 157.34,445.97 159.49,445.86 C161.64,445.76 163.80,445.65 165.95,445.53 C168.10,445.42 170.25,445.30 172.40,445.17 C174.56,445.05 176.71,444.91 178.86,444.77 C181.01,444.63 183.16,444.48 185.31,444.32 C187.47,444.16 189.62,443.99 191.77,443.80 C193.92,443.62 196.07,443.42 198.22,443.21 C200.38,442.99 202.53,442.77 204.68,442.52 C206.83,442.28 208.98,442.01 211.13,441.73 C213.29,441.44 215.44,441.14 217.59,440.81 C219.74,440.48 221.89,440.13 224.04,439.75 C226.20,439.38 229.42,438.74 230.50,438.54" fill="none" stroke="#2020f4" stroke-width="1.50" stroke-dasharray="7.6 2.4"/>
<path d="M43.30,451.90 C44.38,451.91 47.60,451.98 49.76,452.00 C51.91,452.02 54.06,452.02 56.21,452.02 C58.36,452.01 60.51,452.00 62.67,451.97 C64.82,451.95 66.97,451.91 69.12,451.87 C71.27,451.83 73.42,451.78 75.58,451.72 C77.73,451.67 79.88,451.61 82.03,451.54 C84.18,451.48 86.33,451.41 88.49,451.33 C90.64,451.26 92.79,451.19 94.94,451.11 C97.09,451.03 99.24,450.95 101.40,450.87 C103.55,450.79 105.70,450.70 107.85,450.62 C110.00,450.54 112.16,450.45 114.31,450.37 C116.46,450.28 118.61,450.20 120.76,450.11 C122.91,450.03 125.07,449.94 127.22,449.85 C129.37,449.77 131.52,449.68 133.67,449.59 C135.82,449.50 137.98,449.41 140.13,449.32 C142.28,449.23 144.43,449.14 146.58,449.05 C148.73,448.96 150.89,448.86 153.04,448.76 C155.19,448.67 157.34,448.57 159.49,448.46 C161.64,448.36 163.80,448.25 165.95,448.13 C168.10,448.02 170.25,447.90 172.40,447.77 C174.56,447.65 176.71,447.51 178.86,447.37 C181.01,447.23 183.16,447.08 185.31,446.92 C187.47,446.76 189.62,446.59 191.77,446.40 C193.92,446.22 196.07,446.02 198.22,445.81 C200.38,445.59 202.53,445.37 204.68,445.12 C206.83,444.88 208.98,444.61 211.13,444.33 C213.29,444.04 215.44,443.74 217.59,443.41 C219.74,443.08 221.89,442.73 224.04,442.35 C226.20,441.98 229.42,441.34 230.50,441.14" fill="none" stroke="#2020f4" stroke-width="1.50" stroke-dasharray="7.6 2.4"/>
<path d="M43.30,450.60 C44.38,450.61 47.60,450.68 49.76,450.70 C51.91,450.72 54.06,450.72 56.21,450.72 C58.36,450.71 60.51,450.70 62.67,450.67 C64.82,450.65 66.97,450.61 69.12,450.57 C71.27,450.53 73.42,450.48 75.58,450.42 C77.73,450.37 79.88,450.31 82.03,450.24 C84.18,450.18 86.33,450.11 88.49,450.03 C90.64,449.96 92.79,449.89 94.94,449.81 C97.09,449.73 99.24,449.65 101.40,449.57 C103.55,449.49 105.70,449.40 107.85,449.32 C110.00,449.24 112.16,449.15 114.31,449.07 C116.46,448.98 118.61,448.90 120.76,448.81 C122.91,448.73 125.07,448.64 127.22,448.55 C129.37,448.47 131.52,448.38 133.67,448.29 C135.82,448.20 137.98,448.11 140.13,448.02 C142.28,447.93 144.43,447.84 146.58,447.75 C148.73,447.66 150.89,447.56 153.04,447.46 C155.19,447.37 157.34,447.27 159.49,447.16 C161.64,447.06 163.80,446.95 165.95,446.83 C168.10,446.72 170.25,446.60 172.40,446.47 C174.56,446.35 176.71,446.21 178.86,446.07 C181.01,445.93 183.16,445.78 185.31,445.62 C187.47,445.46 189.62,445.29 191.77,445.10 C193.92,444.92 196.07,444.72 198.22,444.51 C200.38,444.29 202.53,444.07 204.68,443.82 C206.83,443.58 208.98,443.31 211.13,443.03 C213.29,442.74 215.44,442.44 217.59,442.11 C219.74,441.78 221.89,441.43 224.04,441.05 C226.20,440.68 229.42,440.04 230.50,439.84" fill="none" stroke="#2020f4" stroke-width="1.40"/>
<line x1="42.80" y1="297.80" x2="68.00" y2="297.80" stroke="#474747" stroke-width="1.50"/>
<line x1="42.80" y1="313.00" x2="68.00" y2="313.00" stroke="#3232ff" stroke-width="1.40"/>
<text x="71.60" y="300.30" font-size="9.00" text-anchor="start" font-weight="normal" textLength="43.30" lengthAdjust="spacingAndGlyphs">Non-ESRD</text>
<text x="71.60" y="315.50" font-size="9.00" text-anchor="start" font-weight="normal" textLength="20.80" lengthAdjust="spacingAndGlyphs">ESRD</text>
</g>
<g>
<line x1="305.50" y1="289.20" x2="500.00" y2="289.20" stroke="#9a9a9a" stroke-width="1.3" stroke-dasharray="1.3 2.14"/>
<line x1="305.50" y1="321.62" x2="500.00" y2="321.62" stroke="#9a9a9a" stroke-width="1.3" stroke-dasharray="1.3 2.14"/>
<line x1="305.50" y1="354.04" x2="500.00" y2="354.04" stroke="#9a9a9a" stroke-width="1.3" stroke-dasharray="1.3 2.14"/>
<line x1="305.50" y1="386.46" x2="500.00" y2="386.46" stroke="#9a9a9a" stroke-width="1.3" stroke-dasharray="1.3 2.14"/>
<line x1="305.50" y1="418.88" x2="500.00" y2="418.88" stroke="#9a9a9a" stroke-width="1.3" stroke-dasharray="1.3 2.14"/>
<line x1="305.50" y1="451.30" x2="500.00" y2="451.30" stroke="#9a9a9a" stroke-width="1.3" stroke-dasharray="1.3 2.14"/>
<path d="M302.70,285.20 V456.30 H500.00" fill="none" stroke="#8a8a8a" stroke-width="1.4"/>
<line x1="299.00" y1="289.20" x2="302.70" y2="289.20" stroke="#555" stroke-width="1.1"/>
<text x="295.60" y="292.35" font-size="9.60" text-anchor="end" font-weight="normal" textLength="14.41" lengthAdjust="spacingAndGlyphs">250</text>
<line x1="299.00" y1="321.62" x2="302.70" y2="321.62" stroke="#555" stroke-width="1.1"/>
<text x="295.60" y="324.77" font-size="9.60" text-anchor="end" font-weight="normal" textLength="14.41" lengthAdjust="spacingAndGlyphs">200</text>
<line x1="299.00" y1="354.04" x2="302.70" y2="354.04" stroke="#555" stroke-width="1.1"/>
<text x="295.60" y="357.19" font-size="9.60" text-anchor="end" font-weight="normal" textLength="14.41" lengthAdjust="spacingAndGlyphs">150</text>
<line x1="299.00" y1="386.46" x2="302.70" y2="386.46" stroke="#555" stroke-width="1.1"/>
<text x="295.60" y="389.61" font-size="9.60" text-anchor="end" font-weight="normal" textLength="14.41" lengthAdjust="spacingAndGlyphs">100</text>
<line x1="299.00" y1="418.88" x2="302.70" y2="418.88" stroke="#555" stroke-width="1.1"/>
<text x="295.60" y="422.03" font-size="9.60" text-anchor="end" font-weight="normal" textLength="9.61" lengthAdjust="spacingAndGlyphs">50</text>
<line x1="299.00" y1="451.30" x2="302.70" y2="451.30" stroke="#555" stroke-width="1.1"/>
<text x="295.60" y="454.45" font-size="9.60" text-anchor="end" font-weight="normal" textLength="4.80" lengthAdjust="spacingAndGlyphs">0</text>
<line x1="323.70" y1="456.30" x2="323.70" y2="459.90" stroke="#555" stroke-width="1.1"/>
<text x="323.70" y="470.40" font-size="9.60" text-anchor="middle" font-weight="normal" textLength="9.85" lengthAdjust="spacingAndGlyphs">−3</text>
<line x1="380.90" y1="456.30" x2="380.90" y2="459.90" stroke="#555" stroke-width="1.1"/>
<text x="380.90" y="470.40" font-size="9.60" text-anchor="middle" font-weight="normal" textLength="9.85" lengthAdjust="spacingAndGlyphs">−2</text>
<line x1="438.40" y1="456.30" x2="438.40" y2="459.90" stroke="#555" stroke-width="1.1"/>
<text x="438.40" y="470.40" font-size="9.60" text-anchor="middle" font-weight="normal" textLength="9.85" lengthAdjust="spacingAndGlyphs">−1</text>
<line x1="495.40" y1="456.30" x2="495.40" y2="459.90" stroke="#555" stroke-width="1.1"/>
<text x="495.40" y="470.40" font-size="9.60" text-anchor="middle" font-weight="normal" textLength="4.80" lengthAdjust="spacingAndGlyphs">0</text>
<text x="401.30" y="279.80" font-size="9.00" text-anchor="middle" font-weight="normal" textLength="50.20" lengthAdjust="spacingAndGlyphs">Darbepoetin</text>
<text x="401.30" y="485.70" font-size="9.00" text-anchor="middle" font-weight="normal" textLength="118.30" lengthAdjust="spacingAndGlyphs">Years before end of follow-up</text>
<text transform="translate(271.70,370.30) rotate(-90)" x="0" y="0" font-size="9.00" text-anchor="middle" textLength="142.30" lengthAdjust="spacingAndGlyphs">Mean darbepoetin dose, μg/month</text>
<path d="M307.00,358.94 C307.80,358.98 310.21,359.11 311.81,359.15 C313.41,359.20 315.01,359.22 316.62,359.22 C318.22,359.23 319.82,359.21 321.42,359.18 C323.03,359.15 324.63,359.10 326.23,359.04 C327.83,358.99 329.44,358.92 331.04,358.84 C332.64,358.76 334.24,358.67 335.85,358.58 C337.45,358.49 339.05,358.39 340.65,358.28 C342.26,358.18 343.86,358.06 345.46,357.95 C347.06,357.83 348.67,357.71 350.27,357.59 C351.87,357.47 353.47,357.34 355.08,357.21 C356.68,357.07 358.28,356.94 359.88,356.80 C361.49,356.66 363.09,356.52 364.69,356.37 C366.29,356.22 367.90,356.07 369.50,355.91 C371.10,355.75 372.71,355.59 374.31,355.41 C375.91,355.24 377.51,355.06 379.12,354.88 C380.72,354.69 382.32,354.49 383.92,354.29 C385.53,354.08 387.13,353.86 388.73,353.63 C390.33,353.40 391.94,353.16 393.54,352.90 C395.14,352.64 396.74,352.37 398.35,352.08 C399.95,351.79 401.55,351.48 403.15,351.15 C404.76,350.82 406.36,350.48 407.96,350.10 C409.56,349.73 411.17,349.34 412.77,348.92 C414.37,348.50 415.97,348.06 417.58,347.59 C419.18,347.12 420.78,346.62 422.38,346.09 C423.99,345.56 425.59,345.00 427.19,344.41 C428.79,343.81 430.40,343.19 432.00,342.52 C433.60,341.86 435.21,341.16 436.81,340.43 C438.41,339.69 440.01,338.92 441.62,338.10 C443.22,337.29 444.82,336.44 446.42,335.54 C448.03,334.64 449.63,333.70 451.23,332.72 C452.83,331.74 454.44,330.71 456.04,329.64 C457.64,328.56 459.24,327.44 460.85,326.28 C462.45,325.11 464.05,323.90 465.65,322.64 C467.26,321.38 468.86,320.07 470.46,318.71 C472.06,317.35 473.67,315.94 475.27,314.49 C476.87,313.03 478.47,311.53 480.08,309.97 C481.68,308.42 483.28,306.82 484.88,305.17 C486.49,303.52 488.09,301.82 489.69,300.07 C491.29,298.33 493.70,295.59 494.50,294.70" fill="none" stroke="#3232ff" stroke-width="1.20" stroke-dasharray="7.6 2.4"/>
<path d="M307.00,375.49 C307.80,375.46 310.21,375.38 311.81,375.29 C313.41,375.19 315.01,375.08 316.62,374.95 C318.22,374.82 319.82,374.67 321.42,374.51 C323.03,374.36 324.63,374.19 326.23,374.01 C327.83,373.84 329.44,373.66 331.04,373.48 C332.64,373.29 334.24,373.10 335.85,372.92 C337.45,372.73 339.05,372.54 340.65,372.35 C342.26,372.16 343.86,371.97 345.46,371.78 C347.06,371.59 348.67,371.41 350.27,371.22 C351.87,371.04 353.47,370.85 355.08,370.67 C356.68,370.49 358.28,370.31 359.88,370.13 C361.49,369.94 363.09,369.76 364.69,369.58 C366.29,369.40 367.90,369.22 369.50,369.03 C371.10,368.84 372.71,368.65 374.31,368.45 C375.91,368.26 377.51,368.06 379.12,367.85 C380.72,367.64 382.32,367.43 383.92,367.20 C385.53,366.97 387.13,366.73 388.73,366.48 C390.33,366.23 391.94,365.97 393.54,365.69 C395.14,365.41 396.74,365.11 398.35,364.79 C399.95,364.48 401.55,364.14 403.15,363.79 C404.76,363.43 406.36,363.05 407.96,362.64 C409.56,362.24 411.17,361.81 412.77,361.35 C414.37,360.89 415.97,360.40 417.58,359.88 C419.18,359.36 420.78,358.82 422.38,358.23 C423.99,357.65 425.59,357.04 427.19,356.39 C428.79,355.74 430.40,355.05 432.00,354.33 C433.60,353.60 435.21,352.85 436.81,352.05 C438.41,351.25 440.01,350.41 441.62,349.54 C443.22,348.66 444.82,347.75 446.42,346.79 C448.03,345.84 449.63,344.85 451.23,343.82 C452.83,342.78 454.44,341.71 456.04,340.60 C457.64,339.50 459.24,338.35 460.85,337.17 C462.45,335.98 464.05,334.76 465.65,333.51 C467.26,332.26 468.86,330.97 470.46,329.66 C472.06,328.34 473.67,326.99 475.27,325.62 C476.87,324.25 478.47,322.85 480.08,321.43 C481.68,320.01 483.28,318.57 484.88,317.12 C486.49,315.67 488.09,314.19 489.69,312.72 C491.29,311.25 493.70,309.02 494.50,308.28" fill="none" stroke="#3232ff" stroke-width="1.20" stroke-dasharray="7.6 2.4"/>
<path d="M307.00,366.75 C307.80,366.77 310.21,366.85 311.81,366.85 C313.41,366.86 315.01,366.83 316.62,366.78 C318.22,366.73 319.82,366.65 321.42,366.57 C323.03,366.48 324.63,366.37 326.23,366.26 C327.83,366.14 329.44,366.01 331.04,365.88 C332.64,365.74 334.24,365.60 335.85,365.45 C337.45,365.31 339.05,365.15 340.65,365.00 C342.26,364.85 343.86,364.69 345.46,364.53 C347.06,364.38 348.67,364.22 350.27,364.06 C351.87,363.91 353.47,363.75 355.08,363.59 C356.68,363.44 358.28,363.28 359.88,363.12 C361.49,362.97 363.09,362.81 364.69,362.65 C366.29,362.49 367.90,362.33 369.50,362.17 C371.10,362.00 372.71,361.84 374.31,361.67 C375.91,361.49 377.51,361.32 379.12,361.14 C380.72,360.95 382.32,360.76 383.92,360.56 C385.53,360.36 387.13,360.15 388.73,359.93 C390.33,359.71 391.94,359.48 393.54,359.22 C395.14,358.97 396.74,358.71 398.35,358.42 C399.95,358.14 401.55,357.84 403.15,357.51 C404.76,357.19 406.36,356.84 407.96,356.47 C409.56,356.10 411.17,355.70 412.77,355.28 C414.37,354.85 415.97,354.40 417.58,353.92 C419.18,353.43 420.78,352.92 422.38,352.37 C423.99,351.82 425.59,351.24 427.19,350.62 C428.79,350.00 430.40,349.35 432.00,348.66 C433.60,347.97 435.21,347.24 436.81,346.46 C438.41,345.69 440.01,344.88 441.62,344.03 C443.22,343.17 444.82,342.28 446.42,341.34 C448.03,340.41 449.63,339.43 451.23,338.40 C452.83,337.38 454.44,336.31 456.04,335.21 C457.64,334.10 459.24,332.95 460.85,331.75 C462.45,330.56 464.05,329.33 465.65,328.05 C467.26,326.78 468.86,325.46 470.46,324.11 C472.06,322.76 473.67,321.37 475.27,319.94 C476.87,318.52 478.47,317.06 480.08,315.57 C481.68,314.08 483.28,312.56 484.88,311.02 C486.49,309.47 488.09,307.90 489.69,306.31 C491.29,304.73 493.70,302.30 494.50,301.50" fill="none" stroke="#3232ff" stroke-width="1.20"/>
<path d="M307.00,361.20 C308.64,361.05 313.56,360.59 316.84,360.28 C320.12,359.96 323.40,359.63 326.68,359.30 C329.96,358.96 333.25,358.61 336.53,358.25 C339.81,357.90 343.09,357.53 346.37,357.15 C349.65,356.77 352.93,356.39 356.21,355.99 C359.49,355.59 362.77,355.18 366.05,354.76 C369.33,354.34 372.61,353.90 375.89,353.46 C379.18,353.02 382.46,352.56 385.74,352.10 C389.02,351.63 392.30,351.15 395.58,350.67 C398.86,350.18 402.14,349.68 405.42,349.17 C408.70,348.66 411.98,348.14 415.26,347.61 C418.54,347.09 421.82,346.55 425.11,346.01 C428.39,345.46 431.67,344.91 434.95,344.35 C438.23,343.79 441.51,343.22 444.79,342.64 C448.07,342.06 451.35,341.47 454.63,340.87 C457.91,340.28 461.19,339.67 464.47,339.06 C467.75,338.44 471.04,337.82 474.32,337.19 C477.60,336.56 480.88,335.92 484.16,335.27 C487.44,334.62 492.36,333.63 494.00,333.30" fill="none" stroke="#474747" stroke-width="1.00" stroke-dasharray="7.6 2.4"/>
<path d="M307.00,369.00 C308.64,368.79 313.56,368.17 316.84,367.75 C320.12,367.33 323.40,366.90 326.68,366.47 C329.96,366.03 333.25,365.60 336.53,365.15 C339.81,364.71 343.09,364.26 346.37,363.81 C349.65,363.35 352.93,362.89 356.21,362.43 C359.49,361.97 362.77,361.50 366.05,361.03 C369.33,360.56 372.61,360.08 375.89,359.60 C379.18,359.12 382.46,358.63 385.74,358.15 C389.02,357.66 392.30,357.17 395.58,356.67 C398.86,356.17 402.14,355.68 405.42,355.17 C408.70,354.66 411.98,354.15 415.26,353.63 C418.54,353.11 421.82,352.59 425.11,352.05 C428.39,351.52 431.67,350.98 434.95,350.44 C438.23,349.89 441.51,349.34 444.79,348.78 C448.07,348.22 451.35,347.66 454.63,347.08 C457.91,346.51 461.19,345.93 464.47,345.35 C467.75,344.76 471.04,344.17 474.32,343.57 C477.60,342.97 480.88,342.37 484.16,341.76 C487.44,341.14 492.36,340.21 494.00,339.90" fill="none" stroke="#474747" stroke-width="1.00" stroke-dasharray="7.6 2.4"/>
<path d="M307.00,365.10 C308.64,364.92 313.56,364.38 316.84,364.01 C320.12,363.64 323.40,363.27 326.68,362.88 C329.96,362.50 333.25,362.10 336.53,361.70 C339.81,361.30 343.09,360.89 346.37,360.48 C349.65,360.06 352.93,359.64 356.21,359.21 C359.49,358.78 362.77,358.34 366.05,357.89 C369.33,357.45 372.61,356.99 375.89,356.53 C379.18,356.07 382.46,355.60 385.74,355.12 C389.02,354.65 392.30,354.16 395.58,353.67 C398.86,353.18 402.14,352.68 405.42,352.17 C408.70,351.66 411.98,351.15 415.26,350.62 C418.54,350.10 421.82,349.57 425.11,349.03 C428.39,348.49 431.67,347.95 434.95,347.39 C438.23,346.84 441.51,346.28 444.79,345.71 C448.07,345.14 451.35,344.56 454.63,343.98 C457.91,343.39 461.19,342.80 464.47,342.20 C467.75,341.60 471.04,341.00 474.32,340.38 C477.60,339.77 480.88,339.14 484.16,338.51 C487.44,337.88 492.36,336.92 494.00,336.60" fill="none" stroke="#474747" stroke-width="1.10"/>
<line x1="428.80" y1="427.70" x2="453.60" y2="427.70" stroke="#474747" stroke-width="1.15"/>
<line x1="428.80" y1="442.70" x2="453.60" y2="442.70" stroke="#3232ff" stroke-width="1.05"/>
<text x="458.00" y="430.20" font-size="9.00" text-anchor="start" font-weight="normal" textLength="43.30" lengthAdjust="spacingAndGlyphs">Non-ESRD</text>
<text x="458.00" y="445.20" font-size="9.00" text-anchor="start" font-weight="normal" textLength="20.80" lengthAdjust="spacingAndGlyphs">ESRD</text>
</g>
</svg>
</body></html>
